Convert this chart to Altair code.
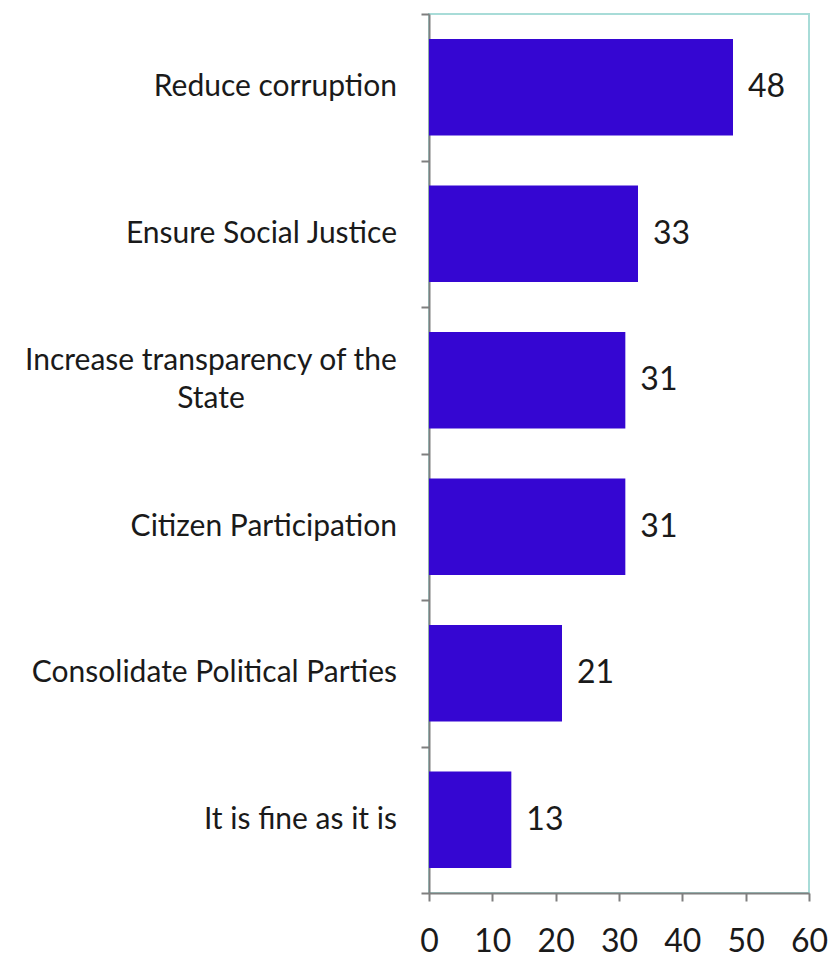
import altair as alt
import pandas as pd

categories = [
    "Reduce corruption",
    "Ensure Social Justice",
    "Increase transparency of the\nState",
    "Citizen Participation",
    "Consolidate Political Parties",
    "It is fine as it is",
]
values = [48, 33, 31, 31, 21, 13]
x_ticks = [0, 10, 20, 30, 40, 50, 60]

df = pd.DataFrame({"cat": categories, "val": values})

FONT = "Lato"
BAR = "#3506D2"
AXIS = "#7f7f7f"
TXT = "#1a1a1a"
MULTI = "indexof(datum.cat, '\\n') >= 0"

y_axis = alt.Y(
    "cat:N",
    sort=categories,
    scale=alt.Scale(paddingInner=0, paddingOuter=0),
    axis=alt.Axis(
        title=None,
        labels=False,
        tickBand="extent",
        tickSize=8,
        tickColor=AXIS,
        domainColor=AXIS,
        domainWidth=2,
        tickWidth=2,
    ),
)
y_plain = alt.Y("cat:N", sort=categories)
x = alt.X(
    "val:Q",
    scale=alt.Scale(domain=[0, 60], nice=False),
    axis=alt.Axis(
        title=None,
        values=x_ticks,
        grid=False,
        labelFont=FONT,
        labelFontSize=32,
        labelColor=TXT,
        labelPadding=25,
        tickSize=8,
        tickColor=AXIS,
        domainColor=AXIS,
        domainWidth=2,
        tickWidth=2,
        labelFlush=False,
    ),
)

base = alt.Chart(df)
bars = base.mark_bar(color=BAR, height=alt.RelativeBandSize(0.66)).encode(y=y_axis, x=x)
values_txt = base.mark_text(
    align="left", baseline="middle", dx=15, font=FONT, fontSize=32, color=TXT
).encode(y=y_plain, x="val:Q", text="val:Q")

cat_single = base.transform_filter("!(" + MULTI + ")").mark_text(
    align="right", baseline="middle", font=FONT, fontSize=30, color=TXT
).encode(y=y_plain, x=alt.value(-32), text="cat:N")
cat_multi = base.transform_filter(MULTI).mark_text(
    align="center", baseline="middle", font=FONT, fontSize=30, color=TXT,
    lineBreak="\n", lineHeight=38, dy=-19,
).encode(y=y_plain, x=alt.value(-218), text="cat:N")

chart = (
    alt.layer(bars, values_txt, cat_single, cat_multi)
    .properties(
        width=380,
        height=879,
        autosize=alt.AutoSizeParams(type="none"),
        padding={"left": 429, "top": 14, "right": 21, "bottom": 65},
        background="white",
    )
    .configure_view(stroke="#A8DCD8", strokeWidth=2)
)

chart.save("out.html", embed_options={"renderer": "svg", "actions": False})
